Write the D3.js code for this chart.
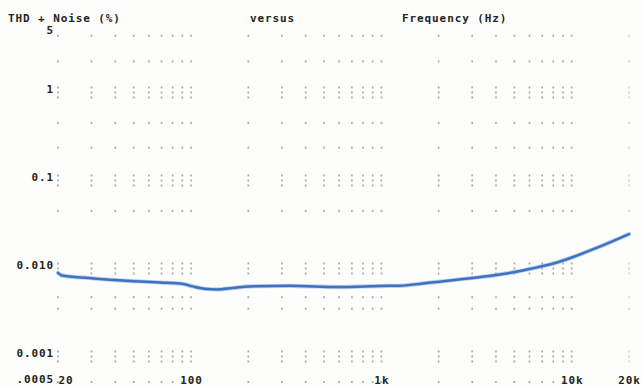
<!DOCTYPE html>
<html>
<head>
<meta charset="utf-8">
<script src="https://cdn.jsdelivr.net/npm/d3@7/dist/d3.min.js"></script>
<style>
  html, body { margin: 0; padding: 0; background: #fdfdfc; }
  svg { display: block; }
  text { font-family: "DejaVu Sans Mono", monospace; font-weight: bold; font-size: 11px; letter-spacing: 0.9px; fill: #24241d; }
</style>
</head>
<body>
<svg id="chart" width="642" height="388"></svg>
<script>
// THD+N measurement, 20 Hz – 20 kHz
const freqHz = [20, 21, 29, 40, 50, 69, 91, 102, 121, 137, 166, 203, 330, 600, 1100, 1250, 1650, 2030, 3000, 4000, 5200, 6000, 8000, 10000, 13500, 20000];
const thdnPct = [0.0087, 0.0081, 0.0076, 0.0072, 0.0070, 0.00676, 0.0065, 0.0061, 0.0057, 0.00564, 0.00585, 0.0061, 0.0062, 0.0060, 0.0062, 0.0062, 0.0066, 0.0069, 0.0076, 0.0082, 0.0090, 0.0096, 0.0111, 0.0130, 0.0167, 0.0240];

// axis labels
const yTickValues = [5, 1, 0.1, 0.01, 0.001, 0.0005];
const yTickLabels = ["5", "1", "0.1", "0.010", "0.001", ".0005"];
const xTickValues = [20, 100, 1000, 10000, 20000];
const xTickLabels = ["20", "100", "1k", "10k", "20k"];

// dotted grid rows (decade rows are drawn as short dotted stacks)
const gridRows = [4.3, 2.2, 1, 0.44, 0.23, 0.1, 0.044, 0.01, 0.0046, 0.0034, 0.001, 0.0005];
const decadeRows = [1, 0.1, 0.01, 0.001];

const svg = d3.select("#chart");
const x = d3.scaleLog().domain([20, 20000]).range([58, 629]);
const y = d3.scaleLog().domain([0.0005, 5]).range([382, 30]);

// grid columns at 1..9 of every decade
const gridCols = [];
[10, 100, 1000, 10000].forEach(d => {
  for (let m = 1; m <= 9; m++) {
    const v = d * m;
    if (v >= 20 && v <= 20000) gridCols.push(v);
  }
});

const dots = [];
gridCols.forEach(c => {
  gridRows.forEach(r => {
    const isDecade = decadeRows.includes(r);
    const offs = isDecade ? [-4, 1, 6] : [0];
    offs.forEach(o => dots.push({ c, r, o, faint: c === 20000 }));
  });
});

svg.append("g").selectAll("rect")
  .data(dots)
  .join("rect")
  .attr("x", d => x(d.c) - 0.8)
  .attr("y", d => y(d.r) + d.o - 1)
  .attr("width", 1.6)
  .attr("height", 2)
  .attr("fill", d => d.faint ? "#c4c8c4" : "#8e948e")
  .attr("opacity", 0.8);

// titles
svg.append("text").attr("x", 8).attr("y", 22).text("THD + Noise (%)");
svg.append("text").attr("x", 250).attr("y", 22).text("versus");
svg.append("text").attr("x", 402).attr("y", 21.5).text("Frequency (Hz)");

// y axis (labels sit a little above their grid rows; the top one is tucked down)
const yAxis = d3.axisLeft(y)
  .tickValues(yTickValues)
  .tickFormat((d, i) => yTickLabels[i])
  .tickSize(0)
  .tickPadding(0);
const gy = svg.append("g").attr("transform", "translate(54,0)").call(yAxis);
gy.select(".domain").remove();
gy.selectAll("text")
  .attr("fill", null)
  .attr("dy", d => d === 5 ? "0.36em" : "0.08em");
gy.attr("font-family", null).attr("font-size", null);

// x axis
const xAxis = d3.axisBottom(x)
  .tickValues(xTickValues)
  .tickFormat((d, i) => xTickLabels[i])
  .tickSize(0)
  .tickPadding(0);
const gx = svg.append("g").attr("transform", "translate(0,376.5)").call(xAxis);
gx.select(".domain").remove();
gx.selectAll("text")
  .attr("fill", null)
  .attr("text-anchor", d => d === 20 ? "start" : "middle");
gx.attr("font-family", null).attr("font-size", null);

// THD+N curve
const pts = freqHz.map((f, i) => ({ f, v: thdnPct[i] }));
const line = d3.line()
  .x(d => x(d.f))
  .y(d => y(d.v))
  .curve(d3.curveMonotoneX);

svg.append("path")
  .datum(pts)
  .attr("d", line)
  .attr("fill", "none")
  .attr("stroke", "#8fb0e0")
  .attr("stroke-width", 4.2)
  .attr("stroke-linecap", "round")
  .attr("opacity", 0.6);
svg.append("path")
  .datum(pts)
  .attr("d", line)
  .attr("fill", "none")
  .attr("stroke", "#3f72c2")
  .attr("stroke-width", 2.5)
  .attr("stroke-linecap", "round");
</script>
</body>
</html>
